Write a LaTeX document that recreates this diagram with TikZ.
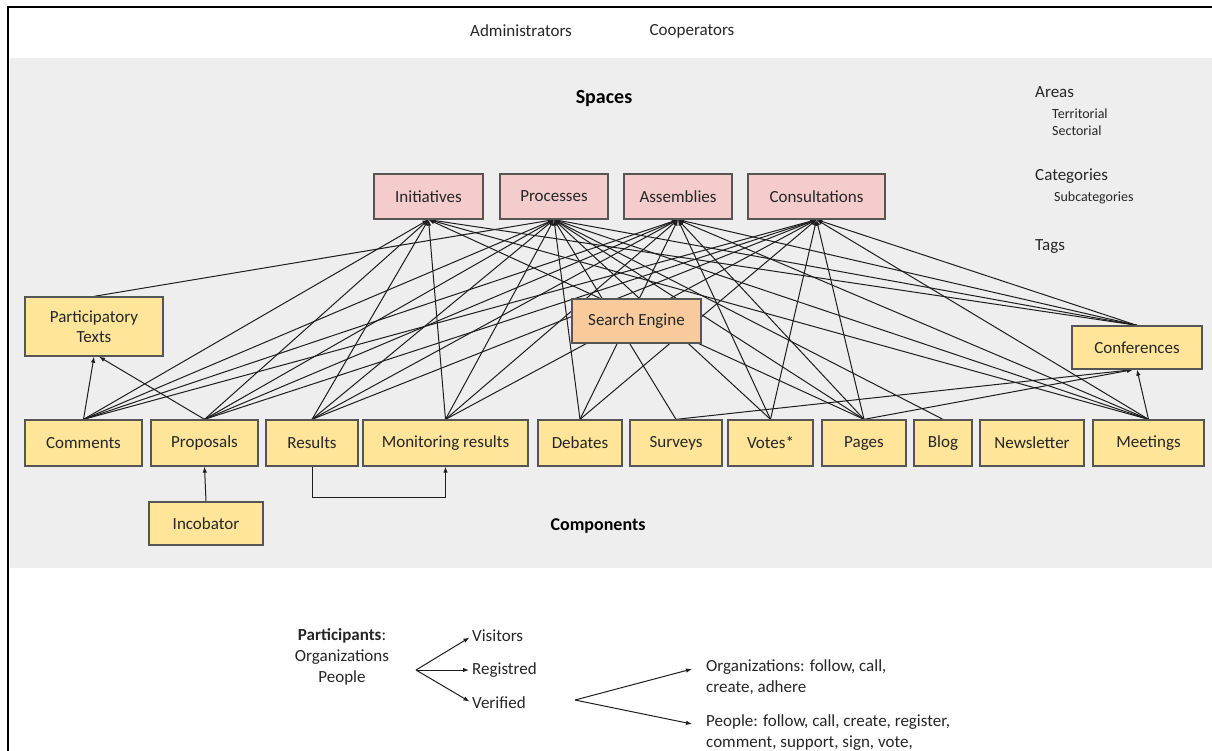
\documentclass[tikz,border=0pt]{standalone}
\usepackage{fontspec}
\setmainfont{Carlito}
\usetikzlibrary{arrows.meta}
\definecolor{pinkbox}{HTML}{F4CCCC}
\definecolor{yellowbox}{HTML}{FFE599}
\definecolor{orangebox}{HTML}{F9CB9C}
\definecolor{boxline}{HTML}{555555}
\definecolor{band}{HTML}{EEEEEE}
\definecolor{linec}{HTML}{1E1E1E}
\definecolor{textc}{HTML}{262626}
\pgfdeclarelayer{bg}
\pgfdeclarelayer{lines}
\pgfsetlayers{bg,lines,main}
\begin{document}
\begin{tikzpicture}[x=1pt,y=-1pt,
  base/.style={draw=boxline, line width=1.3pt, inner sep=0pt, align=center, font=\fontsize{17}{20}\selectfont, text=textc},
  space/.style={base, fill=pinkbox, minimum height=45pt},
  comp/.style={base, fill=yellowbox, minimum height=46pt},
  engine/.style={base, fill=orangebox},
  conn/.style={draw=linec, line width=1pt, -{Latex[length=6pt,width=4.5pt]}},
  lbl/.style={font=\fontsize{17}{21}\selectfont, text=textc, inner sep=0pt},
  small/.style={font=\fontsize{14}{16}\selectfont, text=textc, inner sep=0pt, anchor=west},
  ttl/.style={font=\fontsize{20}{22}\selectfont\bfseries, text=black, inner sep=0pt}
]
\useasboundingbox (0,0) rectangle (1212,750);

% frame and band
\begin{pgfonlayer}{bg}
  \fill[band] (10,58) rectangle (1212,568);
  \draw[line width=1.8pt, black] (8,760) -- (8,7) -- (1220,7);
\end{pgfonlayer}

% top labels
\node[lbl] (adm) at (521,31) {Administrators};
\node[lbl] (coop) at (692,31) {Cooperators};
\node[ttl] (spaces) at (604,99) {Spaces};
\node[ttl, font=\fontsize{18}{22}\selectfont\bfseries] (components) at (598,526) {Components};

% right labels
\node[lbl, anchor=west] (areas) at (1035,92) {Areas};
\node[small] (terr) at (1052,114) {Territorial};
\node[small] (sect) at (1052,131) {Sectorial};
\node[lbl, anchor=west] (cats) at (1035,176) {Categories};
\node[small] (subcats) at (1054,198) {Subcategories};
\node[lbl, anchor=west] (tags) at (1035,247) {Tags};

% spaces
\node[space, minimum width=109pt] (ini) at (428.5,196.5) {Initiatives};
\node[space, minimum width=108pt] (prc) at (554,196.5) {Processes};
\node[space, minimum width=108pt] (asm) at (678,196.5) {Assemblies};
\node[space, minimum width=137pt] (cns) at (816.5,196.5) {Consultations};

% middle
\node[comp, minimum width=138pt, minimum height=59pt] (pt) at (94,326.5) {Participatory\\Texts};
\node[engine, minimum width=129pt, minimum height=44pt] (se) at (636.5,321) {Search Engine};
\node[comp, minimum width=130pt, minimum height=43pt] (conf) at (1137,347.5) {Conferences};

% components
\node[comp, minimum width=117pt] (com) at (83.5,443) {Comments};
\node[comp, minimum width=107pt] (pro) at (204.5,443) {Proposals};
\node[comp, minimum width=92pt] (res) at (312,443) {Results};
\node[comp, minimum width=165pt] (mon) at (445.5,443) {Monitoring results};
\node[comp, minimum width=84pt] (deb) at (580,443) {Debates};
\node[comp, minimum width=92pt] (sur) at (676,443) {Surveys};
\node[comp, minimum width=85pt] (vot) at (770.5,443) {Votes*};
\node[comp, minimum width=84pt] (pag) at (864,443) {Pages};
\node[comp, minimum width=58pt] (blg) at (943,443) {Blog};
\node[comp, minimum width=104pt] (nws) at (1032,443) {Newsletter};
\node[comp, minimum width=111pt] (mee) at (1148.5,443) {Meetings};
\node[comp, minimum width=114pt, minimum height=43pt] (inc) at (206,523.5) {Incobator};

% connectors
\begin{pgfonlayer}{lines}
  \foreach \c/\s in {com/ini, com/prc, com/asm, com/cns,
                     pro/ini, pro/prc, pro/asm, pro/cns,
                     res/ini, res/prc, res/asm, res/cns,
                     mon/ini, mon/prc, mon/asm, mon/cns,
                     deb/prc, deb/asm, deb/cns,
                     sur/prc,
                     vot/prc, vot/asm, vot/cns,
                     pag/ini, pag/prc, pag/asm, pag/cns,
                     blg/prc,
                     mee/ini, mee/prc, mee/asm, mee/cns,
                     conf/ini, conf/prc, conf/asm, conf/cns,
                     pt/prc}
    \draw[conn] (\c.north) -- (\s.south);
  \draw[conn] (com.north) -- (pt.south);
  \draw[conn] (pro.north) -- ([xshift=5pt]pt.south);
  \draw[conn] (sur.north) -- ([xshift=-4pt]conf.south);
  \draw[conn] (pag.north) -- ([xshift=-4pt]conf.south);
  \draw[conn] (mee.north) -- (conf.south);
  \draw[conn] (inc.north) -- (pro.south);
  \draw[conn] (res.south) -- ++(0,31) -| (mon.south);
\end{pgfonlayer}

% participants
\node[lbl, align=center] (part) at (342,657) {\textbf{Participants}:\\Organizations\\People};
\coordinate (fork1) at (416,670);
\node[lbl, anchor=west] (vis) at (472,636) {Visitors};
\node[lbl, anchor=west] (reg) at (472,670) {Registred};
\node[lbl, anchor=west] (ver) at (472,703) {Verified};
\draw[conn, shorten >=3pt] (fork1) -- (vis.west);
\draw[conn, shorten >=3pt] (fork1) -- (reg.west);
\draw[conn, shorten >=3pt] (fork1) -- (ver.west);
\coordinate (fork2) at (575,700);
\node[lbl, anchor=north west, align=left] (org) at (706,659) {Organizations: follow, call,\\create, adhere};
\node[lbl, anchor=north west, align=left] (ppl) at (706,714) {People: follow, call, create, register,\\comment, support, sign, vote,};
\coordinate (orgtip) at (692,669);
\coordinate (ppltip) at (692,724);
\draw[conn] (fork2) -- (orgtip);
\draw[conn] (fork2) -- (ppltip);
\end{tikzpicture}
\end{document}
